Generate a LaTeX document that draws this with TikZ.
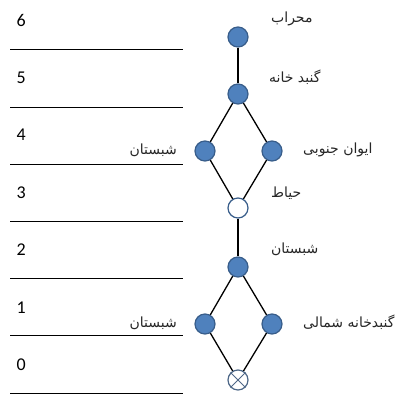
\documentclass[tikz,border=0pt]{standalone}
\usepackage{fontspec}
\setmainfont{Carlito}
\newfontfamily\farsi[Script=Arabic]{DejaVu Sans}
\TeXXeTstate=1
\definecolor{nodeblue}{RGB}{79,129,189}
\definecolor{rimblue}{RGB}{56,93,138}
\begin{document}
\begin{tikzpicture}
[x=1pt,y=-1pt,
level/.style={font=\fontsize{18}{18}\selectfont,anchor=west,inner sep=0pt},
room/.style={font=\farsi\fontsize{14}{16}\selectfont,inner sep=1pt,text=black!85},
rule/.style={draw,line width=0.8pt}
]
\tikzset{every node/.style={shape=circle,draw=rimblue,line width=1.2pt,fill=nodeblue,minimum size=20pt,inner sep=0pt}}
\useasboundingbox (0,0) rectangle (404,396);
% level numbers and rules
\foreach \n/\y in {6/20,5/78,4/135,3/193,2/250,1/308,0/365}
    \node[level,shape=rectangle,draw=none,fill=none,minimum size=0pt] (lv\n) at (16,\y) {\n};
\foreach \n/\y in {6/49,5/107,4/164,3/221,2/278,1/335,0/393}
    \draw[rule] (10,\y) -- (183,\y);
% plan nodes
\node (mihrab) at (238,37) {};
\node (dome) at (238,94) {};
\node (westa) at (205,151) {};
\node (iwan) at (272,151) {};
\node[fill=white] (court) at (238,208) {};
\node (shab) at (238,267) {};
\node (westb) at (205,324) {};
\node (domen) at (272,324) {};
\node[fill=white,draw=rimblue!70!gray] (entry) at (238,380) {};
\draw[line width=1pt,rimblue!70!gray] (entry.north west) -- (entry.south east)
    (entry.north east) -- (entry.south west);
% connections
\draw[line width=1.3pt] (mihrab) -- (dome);
\draw[line width=1.3pt] (dome) -- (westa) -- (court) -- (iwan) -- (dome);
\draw[line width=1.3pt] (court) -- (shab);
\draw[line width=1.3pt] (shab) -- (westb) -- (entry) -- (domen) -- (shab);
% labels
\tikzset{every node/.style={}}
\node[room,anchor=west] (tmihrab) at (270,19) {\beginR محراب\endR};
\node[room,anchor=west] (tdome) at (268,77) {\beginR گنبد خانه\endR};
\node[room,anchor=east] (twesta) at (178,150) {\beginR شبستان\endR};
\node[room,anchor=west] (tiwan) at (302,150) {\beginR ایوان جنوبی\endR};
\node[room,anchor=west] (tcourt) at (270,193) {\beginR حیاط\endR};
\node[room,anchor=west] (tshab) at (270,249) {\beginR شبستان\endR};
\node[room,anchor=east] (twestb) at (178,323) {\beginR شبستان\endR};
\node[room,anchor=west] (tdomen) at (302,322) {\beginR گنبدخانه شمالی\endR};
\end{tikzpicture}
\end{document}
